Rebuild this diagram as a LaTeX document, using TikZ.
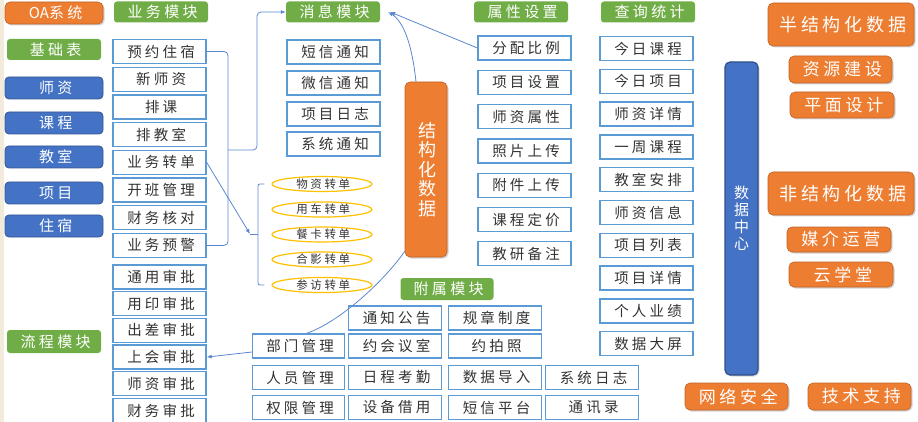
\documentclass[tikz,border=0pt]{standalone}
\usepackage{fontspec}
\newfontfamily\cjk[LetterSpace=22]{Noto Sans CJK SC}
\newfontfamily\cjkv{Noto Sans CJK SC}
\usetikzlibrary{shapes.geometric,arrows.meta,shadows}
\definecolor{orng}{HTML}{ED7D31}
\definecolor{grn}{HTML}{70AD47}
\definecolor{blu}{HTML}{4472C4}
\definecolor{lblu}{HTML}{5B9BD5}
\definecolor{gold}{HTML}{FFC000}
\definecolor{txt}{HTML}{333333}
\definecolor{linec}{HTML}{5B87D0}
\definecolor{beige}{HTML}{F2EADB}
\begin{document}
\begin{tikzpicture}[x=1pt,y=-1pt,
  fixls/.style={execute at end node={\kern-0.22em}},
  box/.style={draw=lblu, line width=1.3pt, fill=white, minimum width=93pt, minimum height=24pt, inner sep=0pt, text=txt, font=\cjk\fontsize{14.5}{16}\selectfont, fixls},
  gbox/.style={fill=grn, rounded corners=3pt, text=white, minimum width=94pt, minimum height=21pt, inner sep=0pt, font=\cjk\fontsize{15}{16}\selectfont, fixls},
  bbox/.style={fill=blu, draw=blu!75!black, line width=0.8pt, rounded corners=4pt, text=white, minimum width=98pt, minimum height=22pt, inner sep=0pt, font=\cjk\fontsize{15}{16}\selectfont, fixls},
  obox/.style={fill=orng, draw=orng!80!black, line width=0.6pt, rounded corners=5pt, text=white, inner sep=0pt, font=\cjk\fontsize{17}{19}\selectfont, drop shadow={shadow xshift=1.5pt, shadow yshift=-1.5pt, opacity=0.35}, fixls},
  ell/.style={ellipse, draw=gold, line width=1.2pt, minimum width=100pt, minimum height=12pt, inner sep=0pt, text=txt, font=\cjk\fontsize{11.5}{12}\selectfont, fixls},
  conn/.style={draw=linec, line width=0.8pt},
  tipc/.style={-{Latex[length=5pt,width=4pt]}}
]
\useasboundingbox (0,0) rectangle (918,422);
\fill[beige] (0,0) rectangle (4,422);

% left column
\node[obox, minimum width=98pt, minimum height=22pt, font=\cjk\fontsize{15}{16}\selectfont] (oa) at (54,13) {{\cjkv OA}系统};
\node[gbox] (jcb) at (54,49.5) {基础表};
\node[bbox] (l1) at (54,88) {师资};
\node[bbox] (l2) at (54,123) {课程};
\node[bbox] (l3) at (54,157) {教室};
\node[bbox] (l4) at (54,193) {项目};
\node[bbox] (l5) at (54,226) {住宿};
\node[gbox, minimum height=23pt] (lc) at (54,341.5) {流程模块};

% business column
\node[gbox] (ywH) at (161,12) {业务模块};
\node[box] (yw1) at (159.5,51.5) {预约住宿};
\node[box] (yw2) at (159.5,79.2) {新师资};
\node[box] (yw3) at (159.5,106.9) {排课};
\node[box] (yw4) at (159.5,134.6) {排教室};
\node[box] (yw5) at (159.5,162.3) {业务转单};
\node[box] (yw6) at (159.5,190) {开班管理};
\node[box] (yw7) at (159.5,217.7) {财务核对};
\node[box] (yw8) at (159.5,245.4) {业务预警};
\node[box] (ys1) at (159.5,277) {通用审批};
\node[box] (ys2) at (159.5,303.7) {用印审批};
\node[box] (ys3) at (159.5,330.4) {出差审批};
\node[box] (ys4) at (159.5,357.1) {上会审批};
\node[box] (ys5) at (159.5,383.8) {师资审批};
\node[box] (ys6) at (159.5,410.5) {财务审批};

% message column
\node[gbox] (msgH) at (333,12) {消息模块};
\node[box] (m1) at (333.5,52) {短信通知};
\node[box] (m2) at (333.5,83) {微信通知};
\node[box] (m3) at (333.5,114) {项目日志};
\node[box] (m4) at (333.5,144) {系统通知};

% ellipses
\node[ell] (e1) at (322,184) {物资转单};
\node[ell] (e2) at (322,209.5) {用车转单};
\node[ell] (e3) at (322,234.5) {餐卡转单};
\node[ell] (e4) at (322,259.5) {合影转单};
\node[ell] (e5) at (322,285) {参访转单};

% structured data
\node[obox, execute at end node={}, minimum width=42pt, minimum height=175pt, align=center, font=\cjkv\fontsize{18}{19.5}\selectfont] (jg) at (426,169.5) {结\\构\\化\\数\\据};

% attribute column
\node[gbox] (sxH) at (521,12) {属性设置};
\node[box] (sx1) at (524.5,48) {分配比例};
\node[box] (sx2) at (524.5,82.3) {项目设置};
\node[box] (sx3) at (524.5,116.6) {师资属性};
\node[box] (sx4) at (524.5,150.9) {照片上传};
\node[box] (sx5) at (524.5,185.2) {附件上传};
\node[box] (sx6) at (524.5,219.5) {课程定价};
\node[box] (sx7) at (524.5,253.8) {教研备注};

% attached module
\node[gbox, minimum width=93pt, minimum height=22pt] (fsH) at (447,289) {附属模块};
\node[box] (f12) at (395,318) {通知公告};
\node[box] (f13) at (495,318) {规章制度};
\node[box, minimum width=92pt] (bm) at (298.5,346) {部门管理};
\node[box] (f22) at (395,346) {约会议室};
\node[box] (f23) at (495,346) {约拍照};
\node[box, minimum width=92pt] (f31) at (298.5,377.5) {人员管理};
\node[box] (f32) at (395,377.5) {日程考勤};
\node[box] (f33) at (495,377.5) {数据导入};
\node[box] (f34) at (592,377.5) {系统日志};
\node[box, minimum width=92pt] (f41) at (298.5,407.5) {权限管理};
\node[box] (f42) at (395,407.5) {设备借用};
\node[box] (f43) at (495,407.5) {短信平台};
\node[box] (f44) at (592,407.5) {通讯录};

% query column
\node[gbox] (cxH) at (648,12) {查询统计};
\node[box] (c1) at (646.5,48.5) {今日课程};
\node[box] (c2) at (646.5,81.3) {今日项目};
\node[box] (c3) at (646.5,114.1) {师资详情};
\node[box] (c4) at (646.5,146.9) {一周课程};
\node[box] (c5) at (646.5,179.7) {教室安排};
\node[box] (c6) at (646.5,212.5) {师资信息};
\node[box] (c7) at (646.5,245.3) {项目列表};
\node[box] (c8) at (646.5,278.1) {项目详情};
\node[box] (c9) at (646.5,310.9) {个人业绩};
\node[box] (c10) at (646.5,343.7) {数据大屏};

% data center
\node[fill=blu, draw=blu!70!black, line width=1.2pt, rounded corners=5pt, minimum width=33pt, minimum height=313pt, inner sep=0pt, text=white, align=center, font=\cjkv\fontsize{15}{17}\selectfont, drop shadow={shadow xshift=1.5pt, shadow yshift=-1.5pt, opacity=0.3}] (dc) at (741.5,218.5) {数\\据\\中\\心};

% right orange
\node[obox, minimum width=146pt, minimum height=43pt, font=\cjk\fontsize{18}{20}\selectfont] (bjg) at (841,24.5) {半结构化数据};
\node[obox, minimum width=103pt, minimum height=27pt] (zy) at (840.5,69.5) {资源建设};
\node[obox, minimum width=104pt, minimum height=26pt] (pm) at (842,105) {平面设计};
\node[obox, minimum width=146pt, minimum height=43pt, font=\cjk\fontsize{18}{20}\selectfont] (fjg) at (841,193.5) {非结构化数据};
\node[obox, minimum width=104pt, minimum height=25pt] (mj) at (839,239.5) {媒介运营};
\node[obox, minimum width=104pt, minimum height=25pt] (yxt) at (841,274.5) {云学堂};
\node[obox, minimum width=103pt, minimum height=27pt] (wl) at (736.5,396.5) {网络安全};
\node[obox, minimum width=103pt, minimum height=27pt] (js) at (859.5,396.5) {技术支持};

% connectors
\coordinate (bA) at (228,150);
\draw[conn, rounded corners=4pt] (yw1.east) -| (bA) |- (yw8.east);
\draw[conn, tipc, rounded corners=4pt] (bA) -- ++(29,0) |- (msgH.west);

\coordinate (bB) at (258,234);
\draw[conn, rounded corners=2pt] ([xshift=-7pt]e1.west) -| (bB) |- ([xshift=-7pt]e5.west);
\draw[conn, tipc] (yw5.east) -- ([xshift=-8pt]bB);
\draw[conn] ([xshift=-8pt]bB) -- (bB);

\draw[conn, tipc] ([xshift=-10pt]jg.north) .. controls (412,45) and (404,22) .. ([xshift=8pt]msgH.east);
\draw[conn, tipc] (sx1.west) -- ([xshift=10pt]msgH.east);
\draw[conn] ([yshift=6pt]jg.south west) .. controls (385,280) and (340,322) .. ([xshift=8pt]bm.north);
\draw[conn, tipc] ([yshift=-6pt]bm.west) -- (ys4.east);
\end{tikzpicture}
\end{document}
